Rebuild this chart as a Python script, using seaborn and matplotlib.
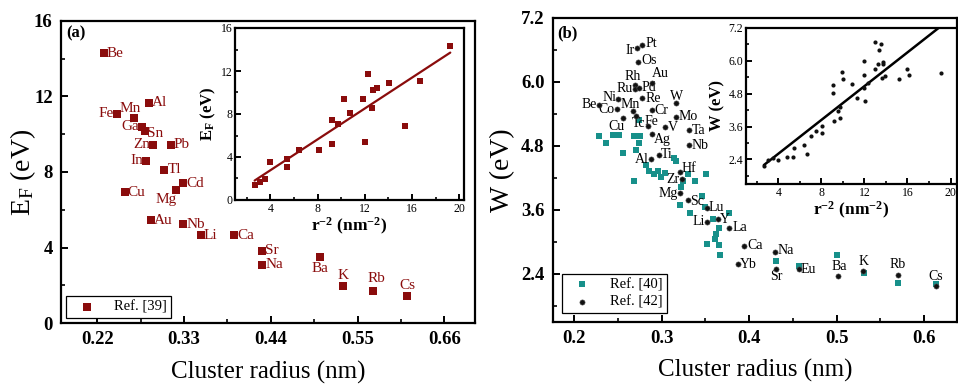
import matplotlib
matplotlib.use('Agg')
import numpy as np
import pandas as pd
import matplotlib.pyplot as plt
import seaborn as sns

# ---------------- data: panel (a), Ref. [39] ----------------
a_elements = ['Be', 'Fe', 'Mn', 'Al', 'Ga', 'Sn', 'Zn', 'Pb', 'In', 'Tl', 'Cd', 'Cu',
              'Mg', 'Au', 'Nb', 'Li', 'Ca', 'Sr', 'Na', 'Ba', 'K', 'Rb', 'Cs']
a_radius = [0.228, 0.245, 0.267, 0.286, 0.277, 0.281, 0.291, 0.313, 0.282, 0.305, 0.329, 0.255,
            0.320, 0.2885, 0.329, 0.351, 0.394, 0.429, 0.429, 0.502, 0.532, 0.570, 0.613]
a_EF = [14.28, 11.09, 10.88, 11.68, 10.40, 10.19, 9.44, 9.44, 8.59, 8.11, 7.41, 6.93,
        7.04, 5.44, 5.23, 4.64, 4.64, 3.84, 3.09, 3.52, 1.97, 1.71, 1.44]

# ---------------- data: panel (b), Ref. [42] (labelled circles) ----------------
b42_elements = ['Ir', 'Pt', 'Os', 'Au', 'Rh', 'Ru', 'Pd', 'Re', 'Ni', 'Be', 'Co', 'Mn', 'W',
                'Cr', 'Mo', 'Tc', 'Cu', 'Fe', 'V', 'Ta', 'Ag', 'Nb', 'Al', 'Ti', 'Hf', 'Zr',
                'Mg', 'Sc', 'Lu', 'Li', 'Y', 'La', 'Ca', 'Yb', 'Na', 'Sr', 'Eu', 'Ba', 'K',
                'Rb', 'Cs']
b42_radius = [0.272, 0.278, 0.2735, 0.289, 0.270, 0.2697, 0.2747, 0.278, 0.2506, 0.229, 0.2488,
              0.2678, 0.317, 0.2888, 0.316, 0.2709, 0.2564, 0.2849, 0.304, 0.3318, 0.2888,
              0.3318, 0.288, 0.297, 0.321, 0.323, 0.321, 0.3306, 0.3516, 0.3516, 0.3642,
              0.3775, 0.3943, 0.387, 0.4297, 0.431, 0.457, 0.5013, 0.5307, 0.570, 0.6137]
b42_W = [6.63, 6.70, 6.38, 5.99, 5.94, 5.87, 5.89, 5.70, 5.69, 5.57, 5.50, 5.46, 5.60,
         5.47, 5.35, 5.37, 5.32, 5.18, 5.16, 5.10, 5.02, 4.82, 4.55, 4.63, 4.31, 4.18,
         3.91, 3.79, 3.63, 3.38, 3.44, 3.27, 2.92, 2.58, 2.81, 2.50, 2.50, 2.36, 2.45,
         2.39, 2.17]

# ---------------- data: panel (b), Ref. [40] (squares) ----------------
b40_radius = [0.228, 0.236, 0.245, 0.251, 0.256, 0.269, 0.275, 0.274, 0.271, 0.269, 0.274, 0.282,
              0.286, 0.291, 0.296, 0.304, 0.299, 0.314, 0.317, 0.330, 0.338, 0.351, 0.324, 0.322,
              0.321, 0.346, 0.333, 0.359, 0.377, 0.366, 0.362, 0.361, 0.352, 0.366, 0.367, 0.350,
              0.431, 0.457, 0.501, 0.531, 0.570, 0.614]
b40_W = [4.99, 4.86, 5.00, 5.00, 4.67, 4.99, 4.99, 4.85, 4.73, 4.14, 5.28, 4.45,
         4.33, 4.28, 4.34, 4.30, 4.21, 4.58, 4.52, 4.28, 4.15, 4.28, 4.15, 4.03,
         3.70, 3.86, 3.55, 3.44, 3.55, 3.26, 3.15, 3.05, 2.96, 2.95, 2.76, 3.66,
         2.65, 2.55, 2.76, 2.42, 2.23, 2.21]

# tick labels
a_xticks = [0.22, 0.33, 0.44, 0.55, 0.66]
a_yticks = [0, 4, 8, 12, 16]
b_xticks = [0.2, 0.3, 0.4, 0.5, 0.6]
b_yticks = [2.4, 3.6, 4.8, 6.0, 7.2]
ins_xticks = [4, 8, 12, 16, 20]

# ---------------- label placement (pixel offsets, alignment) ----------------
a_lab = {'Be': (3, 0, 'left'), 'Fe': (-3, 0, 'right'), 'Mn': (-4, 9, 'center'),
         'Al': (3, 0, 'left'), 'Ga': (-3, 0, 'right'), 'Sn': (2, -3, 'left'),
         'Zn': (-3, 0, 'right'), 'Pb': (3, 0, 'left'), 'In': (-3, 0, 'right'),
         'Tl': (3, 0, 'left'), 'Cd': (3, 0, 'left'), 'Cu': (3, 0, 'left'),
         'Mg': (1, -9, 'right'), 'Au': (3, 0, 'left'), 'Nb': (3, 0, 'left'),
         'Li': (3, 0, 'left'), 'Ca': (3, 0, 'left'), 'Sr': (3, 0, 'left'),
         'Na': (3, 0, 'left'), 'Ba': (0, -12, 'center'), 'K': (0, 10, 'center'),
         'Rb': (3, 12, 'center'), 'Cs': (0, 10, 'center')}
b_lab = {'Ir': (-2, -2, 'right'), 'Pt': (3, 1, 'left'), 'Os': (3, 1, 'left'),
         'Au': (8, 9, 'center'), 'Rh': (-3, 9, 'center'), 'Ru': (-2, 0, 'right'),
         'Pd': (2, 0, 'left'), 'Re': (3, -1, 'left'), 'Ni': (-2, 1, 'right'),
         'Be': (-2, 0, 'right'), 'Co': (-2, -1, 'right'), 'Mn': (-3, 6, 'center'),
         'W': (0, 7, 'center'), 'Cr': (3, 0, 'left'), 'Mo': (3, 0, 'left'),
         'Tc': (3, -8, 'center'), 'Cu': (-7, -8, 'center'), 'Fe': (3, 4, 'center'),
         'V': (3, -1, 'left'), 'Ta': (2, -1, 'left'), 'Ag': (2, -5, 'left'),
         'Nb': (2, -1, 'left'), 'Al': (-2, 0, 'right'), 'Ti': (2, 1, 'left'),
         'Hf': (2, 4, 'left'), 'Zr': (-2, 0, 'right'), 'Mg': (-2, 0, 'right'),
         'Sc': (2, -2, 'left'), 'Lu': (2, 1, 'left'), 'Li': (-2, 0, 'right'),
         'Y': (2, -1, 'left'), 'La': (3, 0, 'left'), 'Ca': (3, 1, 'left'),
         'Yb': (2, 0, 'left'), 'Na': (3, 2, 'left'), 'Sr': (0, -8, 'center'),
         'Eu': (2, -1, 'left'), 'Ba': (2, 10, 'center'), 'K': (0, 10, 'center'),
         'Rb': (0, 10, 'center'), 'Cs': (0, 10, 'center')}

RED = '#8a0c0c'
TEAL = '#17908a'
BLACK = '#111111'

sns.set_theme(style='white')
plt.rcParams.update({
    'font.family': ['Liberation Serif', 'DejaVu Serif'],
    'mathtext.fontset': 'custom',
    'mathtext.rm': 'Liberation Serif',
    'mathtext.it': 'Liberation Serif:italic',
    'mathtext.bf': 'Liberation Serif:bold',
    'axes.edgecolor': 'black',
    'axes.linewidth': 1.6,
    'xtick.direction': 'in', 'ytick.direction': 'in',
    'xtick.color': 'black', 'ytick.color': 'black',
    'text.color': 'black', 'axes.labelcolor': 'black',
})

dfA = pd.DataFrame({'radius': a_radius, 'EF': a_EF, 'el': a_elements})
dfA['inv_r2'] = 1.0 / dfA['radius'] ** 2
df42 = pd.DataFrame({'radius': b42_radius, 'W': b42_W, 'el': b42_elements})
df42['inv_r2'] = 1.0 / df42['radius'] ** 2
df40 = pd.DataFrame({'radius': b40_radius, 'W': b40_W})

W_PX, H_PX = 958, 385
fig = plt.figure(figsize=(W_PX / 100, H_PX / 100), dpi=100)


def rect(l, t, r, b):
    return [l / W_PX, 1 - b / H_PX, (r - l) / W_PX, (b - t) / H_PX]


axA = fig.add_axes(rect(61, 21, 475, 323))
insA = fig.add_axes(rect(235, 28, 464, 200))
axB = fig.add_axes(rect(553, 18, 957, 322))
insB = fig.add_axes(rect(746, 28, 957, 184))


def style_ticks(ax, xt, yt, xminor, yminor, fmt_x, fmt_y, size, bold, pad):
    ax.set_xticks(xt, [fmt_x.format(v) for v in xt], fontsize=size,
                  fontweight='bold' if bold else 'normal')
    ax.set_yticks(yt, [fmt_y.format(v) for v in yt], fontsize=size,
                  fontweight='bold' if bold else 'normal')
    ax.set_xticks(xminor, minor=True)
    ax.set_yticks(yminor, minor=True)
    ax.tick_params(which='both', direction='in', bottom=True, left=True,
                   top=False, right=False, colors='black')
    ax.tick_params(which='major', length=5, width=1.4, pad=pad)
    ax.tick_params(which='minor', length=3, width=1.2)
    for s in ax.spines.values():
        s.set_linewidth(1.6)
        s.set_color('black')


# ---------------- panel (a) ----------------
sns.scatterplot(data=dfA, x='radius', y='EF', marker='s', s=30, color=RED,
                edgecolor=RED, linewidth=0, ax=axA, label='Ref. [39]', zorder=3)
for name, x, y in zip(a_elements, a_radius, a_EF):
    dx, dy, ha = a_lab[name]
    axA.annotate(name, (x, y), xytext=(dx, dy), textcoords='offset pixels',
                 ha=ha, va='center', color=RED, fontsize=11)
axA.set_xlim(0.174, 0.699)
axA.set_ylim(0, 16)
style_ticks(axA, a_xticks, a_yticks, [0.275, 0.385, 0.495, 0.605],
            [2, 6, 10, 14], '{:.2f}', '{:d}', 13.5, True, 6)
axA.set_xlabel('Cluster radius (nm)', fontsize=18, labelpad=9)
axA.set_ylabel('E$_\\mathrm{F}$ (eV)', fontsize=20, labelpad=-3)
axA.text(0.012, 0.96, '(a)', transform=axA.transAxes, fontweight='bold',
         fontsize=12, va='center', ha='left')
legA = axA.legend(loc='lower left', frameon=True, fancybox=False, edgecolor='black',
                  framealpha=1, fontsize=10.5, borderaxespad=0.35, handlelength=2.2,
                  handletextpad=0.8, borderpad=0.3)
legA.get_frame().set_linewidth(0.9)

# inset (a)
sns.regplot(data=dfA, x='inv_r2', y='EF', ci=None, scatter=False, color=RED,
            line_kws={'lw': 1.6}, ax=insA)
sns.scatterplot(data=dfA, x='inv_r2', y='EF', marker='s', s=13, color=RED,
                linewidth=0, ax=insA, zorder=3)
insA.set_xlim(1, 20.4)
insA.set_ylim(0, 16)
style_ticks(insA, ins_xticks, a_yticks, [2, 6, 10, 14, 18], [2, 6, 10, 14],
            '{:d}', '{:d}', 8.5, False, 2)
insA.tick_params(which='major', length=4)
insA.tick_params(which='minor', length=2.5)
insA.set_xlabel('r$^{\\mathbf{-2}}$ (nm$^{\\mathbf{-2}}$)', fontsize=12.5,
                fontweight='bold', labelpad=1)
insA.set_ylabel('E$_\\mathbf{F}$ (eV)', fontsize=12, fontweight='bold', labelpad=2)

# ---------------- panel (b) ----------------
sns.scatterplot(data=df40, x='radius', y='W', marker='s', s=18, color=TEAL,
                linewidth=0, ax=axB, label='Ref. [40]', zorder=3)
sns.scatterplot(data=df42, x='radius', y='W', marker='o', s=14, color=BLACK,
                edgecolor='#555555', linewidth=0.4, ax=axB, label='Ref. [42]', zorder=4)
for name, x, y in zip(b42_elements, b42_radius, b42_W):
    dx, dy, ha = b_lab[name]
    axB.annotate(name, (x, y), xytext=(dx, dy), textcoords='offset pixels',
                 ha=ha, va='center', color='black', fontsize=10)
axB.set_xlim(0.176, 0.6377)
axB.set_ylim(1.5, 7.2)
style_ticks(axB, b_xticks, b_yticks, [0.25, 0.35, 0.45, 0.55],
            [1.8, 3.0, 4.2, 5.4, 6.6], '{:.1f}', '{:.1f}', 13.5, True, 6)
axB.set_xlabel('Cluster radius (nm)', fontsize=18, labelpad=8)
axB.set_ylabel('W (eV)', fontsize=20, labelpad=4)
axB.text(0.01, 0.95, '(b)', transform=axB.transAxes, fontweight='bold',
         fontsize=12, va='center', ha='left')
legB = axB.legend(loc='lower left', frameon=True, fancybox=False, edgecolor='black',
                  framealpha=1, fontsize=10.5, borderaxespad=0.6, handlelength=2.2,
                  handletextpad=0.8, borderpad=0.3, labelspacing=0.3)
legB.get_frame().set_linewidth(0.9)

# inset (b)
sns.regplot(data=df42, x='inv_r2', y='W', ci=None, scatter=False, color='black',
            line_kws={'lw': 1.8}, ax=insB)
sns.scatterplot(data=df42, x='inv_r2', y='W', marker='o', s=9, color=BLACK,
                linewidth=0, ax=insB, zorder=3)
insB.set_xlim(1, 20.6)
insB.set_ylim(1.5, 7.2)
style_ticks(insB, ins_xticks, b_yticks, [2, 6, 10, 14, 18], [1.8, 3.0, 4.2, 5.4, 6.6],
            '{:d}', '{:.1f}', 8.5, False, 2)
insB.tick_params(which='major', length=4)
insB.tick_params(which='minor', length=2.5)
insB.set_xlabel('r$^{\\mathbf{-2}}$ (nm$^{\\mathbf{-2}}$)', fontsize=12.5,
                fontweight='bold', labelpad=1)
insB.set_ylabel('W (eV)', fontsize=12, fontweight='bold', labelpad=2)

fig.savefig('out.png', dpi=100)
